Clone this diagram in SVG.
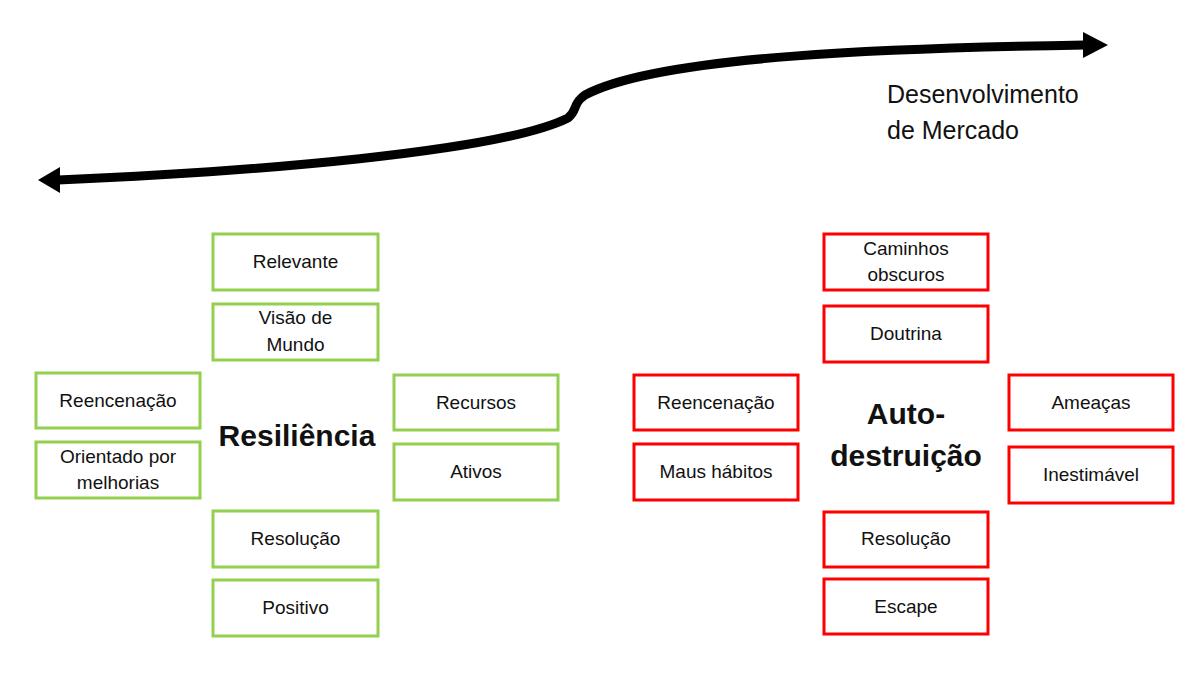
<svg xmlns="http://www.w3.org/2000/svg" width="1200" height="675" viewBox="0 0 1200 675">
<style>
.g{fill:#fff;stroke:#92D050;stroke-width:3}
.r{fill:#fff;stroke:#FF0000;stroke-width:3}
text{font-family:"Liberation Sans",Arial,sans-serif;font-size:19px;fill:#111;text-anchor:middle}
.b{font-weight:bold;font-size:30px}
.l{text-anchor:start;font-size:25px}
</style>
<rect width="1200" height="675" fill="#fff"/>
<g id="connectors">
<path d="M58,180 C250,172 500,152 568,118 C578,110 572,104 585,95 C660,55 900,48 1085,45" fill="none" stroke="#000" stroke-width="9"/>
<polygon points="38,180 60,167 60,193" fill="#000"/>
<polygon points="1108,45 1083,32 1083,58" fill="#000"/>
</g>
<g id="title"><text class="l" x="887" y="103">Desenvolvimento</text><text class="l" x="887" y="139">de Mercado</text></g>
<g id="resiliencia"><text class="b" x="297" y="446">Resiliência</text></g>
<g id="autodestruicao"><text class="b" x="906" y="424">Auto-</text><text class="b" x="906" y="466">destruição</text></g>
<g id="g1"><rect class="g" x="213" y="234" width="165" height="56"/><text x="295.5" y="268">Relevante</text></g>
<g id="g2"><rect class="g" x="213" y="304" width="165" height="56"/><text x="295.5" y="324">Visão de</text><text x="295.5" y="351">Mundo</text></g>
<g id="g3"><rect class="g" x="36" y="373" width="164" height="55"/><text x="118" y="407">Reencenação</text></g>
<g id="g4"><rect class="g" x="36" y="442" width="164" height="56"/><text x="118" y="463">Orientado por</text><text x="118" y="489">melhorias</text></g>
<g id="g5"><rect class="g" x="394" y="375" width="164" height="55"/><text x="476" y="409">Recursos</text></g>
<g id="g6"><rect class="g" x="394" y="444" width="164" height="56"/><text x="476" y="478">Ativos</text></g>
<g id="g7"><rect class="g" x="213" y="511" width="165" height="56"/><text x="295.5" y="545">Resolução</text></g>
<g id="g8"><rect class="g" x="213" y="580" width="165" height="56"/><text x="295.5" y="614">Positivo</text></g>
<g id="r1"><rect class="r" x="824" y="234" width="164" height="56"/><text x="906" y="255">Caminhos</text><text x="906" y="281">obscuros</text></g>
<g id="r2"><rect class="r" x="824" y="306" width="164" height="56"/><text x="906" y="340">Doutrina</text></g>
<g id="r3"><rect class="r" x="634" y="375" width="164" height="55"/><text x="716" y="409">Reencenação</text></g>
<g id="r4"><rect class="r" x="634" y="444" width="164" height="56"/><text x="716" y="478">Maus hábitos</text></g>
<g id="r5"><rect class="r" x="1009" y="375" width="164" height="55"/><text x="1091" y="409">Ameaças</text></g>
<g id="r6"><rect class="r" x="1009" y="447" width="164" height="56"/><text x="1091" y="481">Inestimável</text></g>
<g id="r7"><rect class="r" x="824" y="512" width="164" height="55"/><text x="906" y="545">Resolução</text></g>
<g id="r8"><rect class="r" x="824" y="579" width="164" height="55"/><text x="906" y="613">Escape</text></g>
</svg>
